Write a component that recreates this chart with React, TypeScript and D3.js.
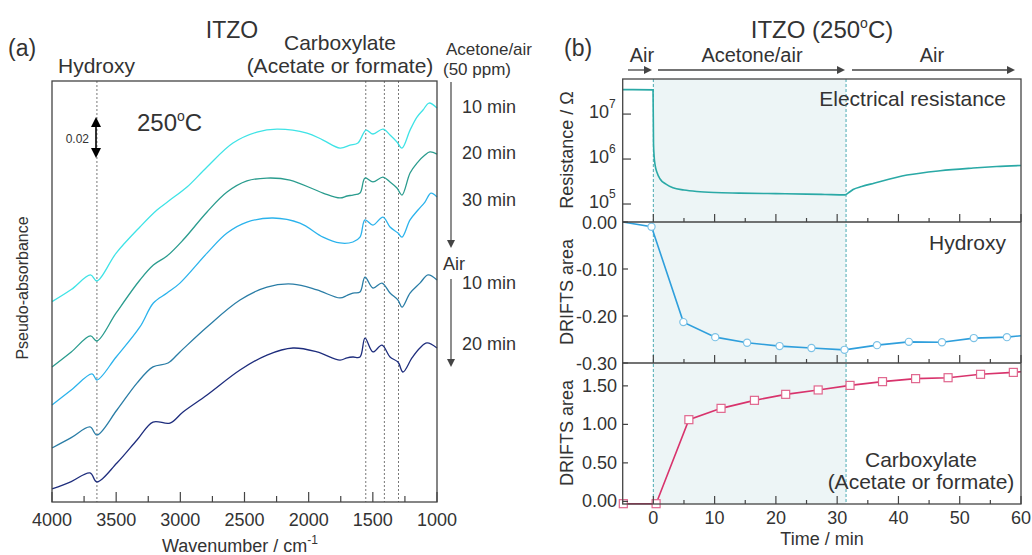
import React from 'react';
import * as d3 from 'd3';

// ---- (a) DRIFTS spectra: [wavenumber cm-1, pseudo-absorbance] ----
const spec10 = [
  [4000, 0.1028], [3850, 0.1090], [3700, 0.1165], [3650, 0.1134], [3500, 0.1277], [3315, 0.1411],
  [3182, 0.1498], [3081, 0.1549], [2948, 0.1616], [2792, 0.1719], [2590, 0.1842], [2403, 0.1898],
  [2247, 0.1913], [2013, 0.1893], [1888, 0.1857], [1756, 0.1816], [1678, 0.1831], [1616, 0.1842],
  [1553, 0.1908], [1499, 0.1888], [1421, 0.1913], [1366, 0.1883], [1312, 0.1847], [1273, 0.1816],
  [1210, 0.1908], [1156, 0.1975], [1109, 0.2011], [1062, 0.2047], [1000, 0.2021],
];
const spec20 = [
  [4000, 0.0693], [3850, 0.0770], [3700, 0.0852], [3650, 0.0826], [3500, 0.0970], [3315, 0.1139],
  [3210, 0.1216], [3104, 0.1262], [2979, 0.1344], [2792, 0.1488], [2636, 0.1590], [2481, 0.1647],
  [2325, 0.1662], [2146, 0.1652], [1888, 0.1585], [1756, 0.1560], [1700, 0.1570], [1655, 0.1575],
  [1600, 0.1585], [1561, 0.1662], [1499, 0.1642], [1421, 0.1667], [1366, 0.1642], [1312, 0.1611],
  [1273, 0.1575], [1210, 0.1688], [1156, 0.1739], [1094, 0.1780], [1055, 0.1796], [1000, 0.1785],
];
const spec30 = [
  [4000, 0.0498], [3850, 0.0575], [3688, 0.0657], [3650, 0.0626], [3500, 0.0744], [3315, 0.0898],
  [3210, 0.1021], [3104, 0.1072], [3003, 0.1123], [2792, 0.1277], [2636, 0.1380], [2481, 0.1436],
  [2278, 0.1457], [2068, 0.1431], [1888, 0.1359], [1756, 0.1329], [1655, 0.1334], [1600, 0.1359],
  [1561, 0.1447], [1499, 0.1421], [1421, 0.1462], [1366, 0.1411], [1304, 0.1380], [1273, 0.1359],
  [1210, 0.1447], [1148, 0.1498], [1094, 0.1539], [1047, 0.1585], [1000, 0.1565],
];
const specAir10 = [
  [4000, 0.0277], [3850, 0.0330], [3704, 0.0385], [3650, 0.0344], [3494, 0.0472], [3338, 0.0610],
  [3213, 0.0693], [3096, 0.0713], [3003, 0.0770], [2792, 0.0898], [2535, 0.1036], [2325, 0.1103],
  [2122, 0.1118], [1935, 0.1088], [1756, 0.1047], [1700, 0.1060], [1655, 0.1072], [1600, 0.1077],
  [1561, 0.1154], [1499, 0.1098], [1429, 0.1123], [1366, 0.1072], [1304, 0.1036], [1273, 0.1000],
  [1210, 0.1072], [1133, 0.1123], [1070, 0.1165], [1000, 0.1139],
];
const specAir20 = [
  [4000, 0.0067], [3850, 0.0105], [3704, 0.0149], [3650, 0.0103], [3494, 0.0200], [3338, 0.0318],
  [3213, 0.0410], [3081, 0.0405], [2979, 0.0462], [2792, 0.0549], [2535, 0.0677], [2325, 0.0754],
  [2122, 0.0790], [1935, 0.0770], [1756, 0.0728], [1700, 0.0740], [1655, 0.0744], [1600, 0.0744],
  [1561, 0.0841], [1499, 0.0770], [1429, 0.0805], [1366, 0.0744], [1304, 0.0718], [1265, 0.0667],
  [1195, 0.0739], [1133, 0.0790], [1078, 0.0816], [1000, 0.0790],
];
const spectra = [
  { name: '10 min', color: '#3fe3e6', data: spec10 },
  { name: '20 min', color: '#2a9c8e', data: spec20 },
  { name: '30 min', color: '#2bb3ec', data: spec30 },
  { name: 'Air 10 min', color: '#2a7da6', data: specAir10 },
  { name: 'Air 20 min', color: '#1e2d7d', data: specAir20 },
];
const markLines = [3650, 1555, 1410, 1300];
const wnTicks = [4000, 3500, 3000, 2500, 2000, 1500, 1000];
const wnMinor = [3750, 3250, 2750, 2250, 1750, 1250];

// ---- (b) time traces ----
const resistance = [
  [-5, 3.5e7], [-0.05, 3.45e7], [0.03, 2.2e6], [0.12, 1.2e6], [0.3, 7.2e5], [0.6, 5.0e5],
  [1.1, 3.6e5], [2, 2.8e5], [3.2, 2.3e5], [5, 2.05e5], [7.1, 1.9e5], [10, 1.8e5], [14, 1.75e5],
  [20, 1.7e5], [25, 1.66e5], [28, 1.63e5], [31.3, 1.6e5], [31.9, 1.8e5], [32.6, 2.1e5],
  [34, 2.45e5], [36, 2.9e5], [41.4, 4.4e5], [46.8, 5.5e5], [52.2, 6.3e5], [56, 6.8e5], [60, 7.2e5],
];
const hydroxyT = [-0.3, 4.9, 10.1, 15.3, 20.6, 25.8, 31.2, 36.5, 41.7, 47.1, 52.3, 57.7];
const hydroxyV = [-0.01, -0.213, -0.245, -0.257, -0.264, -0.268, -0.272, -0.262, -0.255, -0.256, -0.247, -0.245];
const hydroxyStart = [-5, 0.0];
const hydroxyEnd = [60, -0.242];
const carbT = [-4.9, 0.45, 5.8, 11.05, 16.5, 21.6, 26.9, 32.1, 37.4, 42.8, 48.1, 53.4, 58.75];
const carbV = [-0.03, -0.03, 1.061, 1.208, 1.312, 1.39, 1.447, 1.506, 1.555, 1.594, 1.606, 1.65, 1.675];
const carbEnd = [60, 1.684];
const timeTicks = [0, 10, 20, 30, 40, 50, 60];
const timeMinor = [5, 15, 25, 35, 45, 55];
const resTicks = [5, 6, 7];
const hydTicks = [0, -0.1, -0.2, -0.3];
const carbTicks = [0, 0.5, 1.0, 1.5];
const acetoneOn = 0;
const acetoneOff = 31.45;

const FONT = '"Liberation Sans", Arial, Helvetica, sans-serif';
const TXT = '#333';
const FRAME = '#444';

export default function App() {
  // panel (a)
  const xA = d3.scaleLinear().domain([4000, 1000]).range([52, 437]);
  const yA = d3.scaleLinear().domain([0, 0.216]).range([502, 81]);
  const lineA = d3.line<number[]>().x(d => xA(d[0])).y(d => yA(d[1])).curve(d3.curveCatmullRom.alpha(0.5));

  // panel (b)
  const xB = d3.scaleLinear().domain([-5, 60]).range([622.7, 1021]);
  const yRes = d3.scaleLog().domain([10 ** 4.6, 10 ** 7.78]).range([222, 79]);
  const yHyd = d3.scaleLinear().domain([-0.3, 0]).range([363, 222]);
  const yCar = d3.scaleLinear().domain([-0.034, 1.797]).range([504, 363]);
  const resLine = d3.line<number[]>().x(d => xB(d[0])).y(d => yRes(d[1])).curve(d3.curveMonotoneX);
  const hydPts = [hydroxyStart, ...hydroxyT.map((t, i) => [t, hydroxyV[i]]), hydroxyEnd];
  const carPts = [...carbT.map((t, i) => [t, carbV[i]]), carbEnd];
  const hydLine = d3.line<number[]>().x(d => xB(d[0])).y(d => yHyd(d[1]));
  const carLine = d3.line<number[]>().x(d => xB(d[0])).y(d => yCar(d[1]));
  const panelBottoms = [222, 363, 504];

  const arrowHead = (x: number, y: number, dir: 'down' | 'up' | 'right', s = 5) => {
    if (dir === 'down') return `M${x - s},${y - 2 * s}L${x + s},${y - 2 * s}L${x},${y}Z`;
    if (dir === 'up') return `M${x - s},${y + 2 * s}L${x + s},${y + 2 * s}L${x},${y}Z`;
    return `M${x - 2 * s},${y - s}L${x - 2 * s},${y + s}L${x},${y}Z`;
  };

  return (
    <svg width={1032} height={555} style={{ position: 'absolute', left: 0, top: 0, background: '#fff' }}
      fontFamily={FONT} fill={TXT}>
      {/* ============ (a) ============ */}
      <text x={8} y={56} fontSize={23}>(a)</text>
      <text x={232} y={38} fontSize={23} textAnchor="middle">ITZO</text>
      <text x={58} y={73} fontSize={21}>Hydroxy</text>
      <text x={340} y={50} fontSize={21} textAnchor="middle">Carboxylate</text>
      <text x={340} y={73} fontSize={21} textAnchor="middle">(Acetate or formate)</text>
      <text x={446} y={55} fontSize={17}>Acetone/air</text>
      <text x={443} y={75} fontSize={17}>(50 ppm)</text>

      {markLines.map(w => (
        <line key={w} x1={xA(w)} x2={xA(w)} y1={81} y2={502} stroke="#555" strokeWidth={0.8} strokeDasharray="2,2" />
      ))}

      {spectra.map(s => (
        <path key={s.name} d={lineA(s.data) || ''} fill="none" stroke={s.color} strokeWidth={1.3} />
      ))}

      <rect x={52} y={81} width={385} height={421} fill="none" stroke={FRAME} strokeWidth={1.3} />
      {wnTicks.map(w => (
        <g key={w}>
          <line x1={xA(w)} x2={xA(w)} y1={502} y2={492} stroke={FRAME} strokeWidth={1.2} />
          <text x={xA(w)} y={526} fontSize={18} textAnchor="middle">{w}</text>
        </g>
      ))}
      {wnMinor.map(w => (
        <line key={w} x1={xA(w)} x2={xA(w)} y1={502} y2={496} stroke={FRAME} strokeWidth={1.2} />
      ))}
      <text x={240} y={552} fontSize={18} textAnchor="middle">
        Wavenumber / cm<tspan dy={-8} fontSize={12}>-1</tspan>
      </text>
      <text transform="translate(28,288) rotate(-90)" fontSize={16} textAnchor="middle">Pseudo-absorbance</text>

      {/* 0.02 scale bar */}
      <line x1={96} x2={96} y1={124} y2={151} stroke="#000" strokeWidth={1.6} />
      <path d={arrowHead(96, 117, 'up', 5)} fill="#000" />
      <path d={arrowHead(96, 158, 'down', 5)} fill="#000" />
      <text x={89} y={143} fontSize={12} textAnchor="end">0.02</text>
      <text x={137} y={131} fontSize={24}>
        250<tspan dy={-10} fontSize={14}>o</tspan><tspan dy={10}>C</tspan>
      </text>

      {/* time labels at right */}
      <line x1={451} x2={451} y1={82} y2={240} stroke="#444" strokeWidth={1.2} />
      <path d={arrowHead(451, 248, 'down', 4)} fill="#444" />
      <text x={462} y={113} fontSize={18}>10 min</text>
      <text x={462} y={159} fontSize={18}>20 min</text>
      <text x={462} y={206} fontSize={18}>30 min</text>
      <text x={443} y={270} fontSize={18}>Air</text>
      <line x1={451} x2={451} y1={279} y2={359} stroke="#444" strokeWidth={1.2} />
      <path d={arrowHead(451, 367, 'down', 4)} fill="#444" />
      <text x={462} y={289} fontSize={18}>10 min</text>
      <text x={462} y={350} fontSize={18}>20 min</text>

      {/* ============ (b) ============ */}
      <text x={564} y={56} fontSize={23}>(b)</text>
      <text x={822} y={38} fontSize={24} textAnchor="middle">
        ITZO (250<tspan dy={-10} fontSize={14}>o</tspan><tspan dy={10}>C)</tspan>
      </text>
      <text x={642} y={62} fontSize={20} textAnchor="middle">Air</text>
      <text x={752} y={62} fontSize={20} textAnchor="middle">Acetone/air</text>
      <text x={932} y={62} fontSize={20} textAnchor="middle">Air</text>
      {[[628, 652], [658, 845], [852, 1015]].map(([a, b], i) => (
        <g key={i}>
          <line x1={a} x2={b - 8} y1={70} y2={70} stroke="#444" strokeWidth={1.3} />
          <path d={arrowHead(b, 70, 'right', 4)} fill="#444" />
        </g>
      ))}

      {/* acetone exposure shading */}
      <rect x={xB(acetoneOn)} y={79} width={xB(acetoneOff) - xB(acetoneOn)} height={425} fill="#edf5f6" />
      {[acetoneOn, acetoneOff].map(t => (
        <line key={t} x1={xB(t)} x2={xB(t)} y1={79} y2={504} stroke="#4aaab3" strokeWidth={1} strokeDasharray="3,2" />
      ))}

      {/* resistance */}
      <path d={resLine(resistance) || ''} fill="none" stroke="#2aa9a6" strokeWidth={1.6} />
      <text x={1006} y={106} fontSize={21} textAnchor="end">Electrical resistance</text>

      {/* hydroxy */}
      <path d={hydLine(hydPts) || ''} fill="none" stroke="#2f9fdc" strokeWidth={1.6} />
      {hydroxyT.map((t, i) => (
        <circle key={i} cx={xB(t)} cy={yHyd(hydroxyV[i])} r={3.6} fill="#fff" stroke="#7cc2e6" strokeWidth={1.2} />
      ))}
      <text x={1006} y={250} fontSize={21} textAnchor="end">Hydroxy</text>

      {/* carboxylate */}
      <path d={carLine(carPts) || ''} fill="none" stroke="#d8336c" strokeWidth={1.6} />
      {carbT.map((t, i) => (
        <rect key={i} x={xB(t) - 4} y={yCar(carbV[i]) - 4} width={8} height={8} fill="#fff" stroke="#e0668e" strokeWidth={1.2} />
      ))}
      <text x={921} y={467} fontSize={21} textAnchor="middle">Carboxylate</text>
      <text x={921} y={489} fontSize={21} textAnchor="middle">(Acetate or formate)</text>

      {/* frames and ticks */}
      <rect x={622.7} y={79} width={398.3} height={425} fill="none" stroke={FRAME} strokeWidth={1.3} />
      {panelBottoms.slice(0, 2).map(y => (
        <line key={y} x1={622.7} x2={1021} y1={y} y2={y} stroke={FRAME} strokeWidth={1.3} />
      ))}
      {panelBottoms.map(y => (
        <g key={y}>
          {timeTicks.map(t => (
            <line key={t} x1={xB(t)} x2={xB(t)} y1={y} y2={y - 8} stroke={FRAME} strokeWidth={1.2} />
          ))}
          {timeMinor.map(t => (
            <line key={t} x1={xB(t)} x2={xB(t)} y1={y} y2={y - 4} stroke={FRAME} strokeWidth={1.2} />
          ))}
        </g>
      ))}
      {timeTicks.map(t => (
        <text key={t} x={xB(t)} y={524} fontSize={18} textAnchor="middle">{t}</text>
      ))}
      <text x={822} y={545} fontSize={18} textAnchor="middle">Time / min</text>

      {resTicks.map(p => (
        <g key={p}>
          <line x1={622.7} x2={631} y1={yRes(10 ** p)} y2={yRes(10 ** p)} stroke={FRAME} strokeWidth={1.2} />
          <text x={609} y={yRes(10 ** p) + 4} fontSize={18} textAnchor="end">10</text>
          <text x={609} y={yRes(10 ** p) - 6} fontSize={12}>{p}</text>
        </g>
      ))}
      {hydTicks.map(v => (
        <g key={v}>
          <line x1={622.7} x2={628} y1={yHyd(v)} y2={yHyd(v)} stroke={FRAME} strokeWidth={1.2} />
          <text x={617} y={yHyd(v) + 7} fontSize={18} textAnchor="end">{v.toFixed(2)}</text>
        </g>
      ))}
      {carbTicks.map(v => (
        <g key={v}>
          <line x1={622.7} x2={628} y1={yCar(v)} y2={yCar(v)} stroke={FRAME} strokeWidth={1.2} />
          <text x={617} y={yCar(v) + 6} fontSize={18} textAnchor="end">{v.toFixed(2)}</text>
        </g>
      ))}
      <text transform="translate(573,150) rotate(-90)" fontSize={18} textAnchor="middle">Resistance / Ω</text>
      <text transform="translate(573,292) rotate(-90)" fontSize={18} textAnchor="middle">DRIFTS area</text>
      <text transform="translate(573,433) rotate(-90)" fontSize={18} textAnchor="middle">DRIFTS area</text>
    </svg>
  );
}
